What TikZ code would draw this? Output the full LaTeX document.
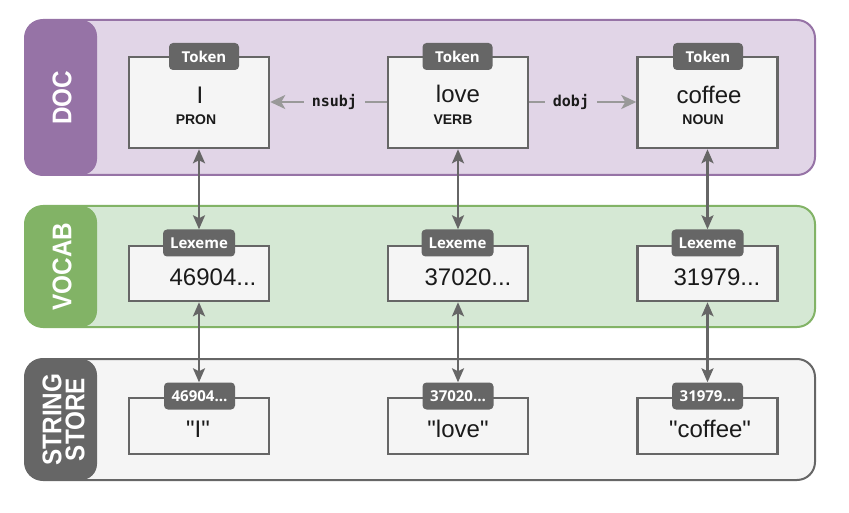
\documentclass[tikz,border=0pt]{standalone}
\usepackage{fontspec}
\setmainfont{Liberation Sans}
\newfontfamily\qfont{Liberation Sans}[Ligatures=TeXOff]
\newfontfamily\tagfont{Open Sans}
\newfontfamily\monofont{DejaVu Sans Mono}
\usetikzlibrary{arrows.meta}
\definecolor{docfill}{HTML}{E1D5E7}
\definecolor{docline}{HTML}{9673A6}
\definecolor{vocfill}{HTML}{D5E8D4}
\definecolor{vocline}{HTML}{82B366}
\definecolor{strfill}{HTML}{F5F5F5}
\definecolor{strline}{HTML}{666666}
\definecolor{boxfill}{HTML}{F5F5F5}
\definecolor{boxline}{HTML}{666666}
\definecolor{tagfill}{HTML}{666666}
\definecolor{relline}{HTML}{999999}
\definecolor{txt}{HTML}{1A1A1A}
\tikzset{
  band/.style={rounded corners=18pt, line width=2pt},
  tab/.style={rounded corners=16pt},
  tabtext/.style={rotate=90, text=white, align=center,
    font=\fontsize{27}{23}\selectfont\bfseries},
  objbox/.style={draw=boxline, fill=boxfill, line width=2.5pt, minimum width=140pt, inner sep=0pt},
  tagbox/.style={fill=tagfill, rounded corners=4pt, text=white, minimum width=70pt, minimum height=27pt, inner sep=0pt,
    font=\tagfont\fontsize{15}{17}\selectfont\bfseries},
  bigtext/.style={text=txt, inner sep=0pt, font=\fontsize{24}{28}\selectfont},
  quotetext/.style={text=txt, inner sep=0pt, font=\qfont\fontsize{24}{28}\selectfont},
  postext/.style={text=txt, inner sep=0pt, font=\fontsize{14}{16}\selectfont\bfseries},
  reltext/.style={text=txt, fill=docfill, inner xsep=8pt, inner ysep=2pt, font=\monofont\fontsize{15}{17}\selectfont\bfseries},
  relarrow/.style={draw=relline, line width=2.5pt, -{Stealth[length=15pt,width=14pt,inset=4pt]}},
  varrow/.style={draw=boxline, line width=2.5pt, {Stealth[length=14pt,width=12pt,inset=3pt]}-{Stealth[length=14pt,width=12pt,inset=3pt]}},
}
\begin{document}
\begin{tikzpicture}[x=1pt,y=-1pt]
\useasboundingbox (0,0) rectangle (849,513);
% bands
\draw[band, draw=docline, fill=docfill] (25,20) rectangle (815,175);
\fill[tab, docline] (25,20) rectangle (97,175);
\node[tabtext] (doclabel) at (62,98) {\scalebox{0.9}[1]{DOC}};
\draw[band, draw=vocline, fill=vocfill] (25,206) rectangle (815,327);
\fill[tab, vocline] (25,206) rectangle (97,327);
\node[tabtext] (voclabel) at (62,266.5) {\scalebox{0.9}[1]{VOCAB}};
\draw[band, draw=strline, fill=strfill] (25,359) rectangle (815,480);
\fill[tab, strline] (25,359) rectangle (97,480);
\node[tabtext] (strlabel) at (63.5,419.5) {\scalebox{0.9}[1]{STRING}\\\scalebox{0.9}[1]{STORE}};

% token boxes
\node[objbox, minimum height=91pt] (tok1) at (199,102.5) {};
\node[objbox, minimum height=91pt] (tok2) at (458,102.5) {};
\node[objbox, minimum height=91pt] (tok3) at (707.5,102.5) {};
\node[tagbox] (toktag1) at (204,56.5) {Token};
\node[tagbox] (toktag2) at (457.5,56.5) {Token};
\node[tagbox] (toktag3) at (708,56.5) {Token};
\node[bigtext] (tokw1) at (200,95) {I};
\node[bigtext] (tokw2) at (458,94) {love};
\node[bigtext] (tokw3) at (709,95) {coffee};
\node[postext] (pos1) at (196,120) {PRON};
\node[postext] (pos2) at (453,120) {VERB};
\node[postext] (pos3) at (703,120) {NOUN};

% dependency arrows
\draw[relarrow] (tok2.west |- 0,102) -- node[reltext, pos=0.45] (nsubj) {nsubj} (tok1.east |- 0,102);
\draw[relarrow] (tok2.east |- 0,102) -- node[reltext, pos=0.39] (dobj) {dobj} (tok3.west |- 0,102);

% lexeme boxes
\node[objbox, minimum height=55pt] (lex1) at (199,273.5) {};
\node[objbox, minimum height=55pt] (lex2) at (458,273.5) {};
\node[objbox, minimum height=55pt] (lex3) at (707.5,273.5) {};
\node[tagbox, minimum width=72pt] (lextag1) at (199,243) {Lexeme};
\node[tagbox, minimum width=72pt] (lextag2) at (457.5,243) {Lexeme};
\node[tagbox, minimum width=72pt] (lextag3) at (707.5,243) {Lexeme};
\node[bigtext] (lexw1) at (213,277) {46904...};
\node[bigtext] (lexw2) at (468,277) {37020...};
\node[bigtext] (lexw3) at (717,277) {31979...};

% string boxes
\node[objbox, minimum height=56pt] (str1) at (199,426) {};
\node[objbox, minimum height=56pt] (str2) at (458,426) {};
\node[objbox, minimum height=56pt] (str3) at (707.5,426) {};
\node[tagbox, minimum width=71pt] (strtag1) at (199.5,396) {46904…};
\node[tagbox, minimum width=71pt] (strtag2) at (458,396) {37020…};
\node[tagbox, minimum width=71pt] (strtag3) at (707.5,396) {31979…};
\node[quotetext] (strw1) at (198,429) {"I"};
\node[quotetext] (strw2) at (458,429) {"love"};
\node[quotetext] (strw3) at (710,429) {"coffee"};

% vertical arrows
\foreach \i in {1,2,3}{
  \draw[varrow] (tok\i.south) -- (tok\i.south |- lextag\i.north);
  \draw[varrow] (lex\i.south) -- (lex\i.south |- strtag\i.north);
}
\end{tikzpicture}
\end{document}
